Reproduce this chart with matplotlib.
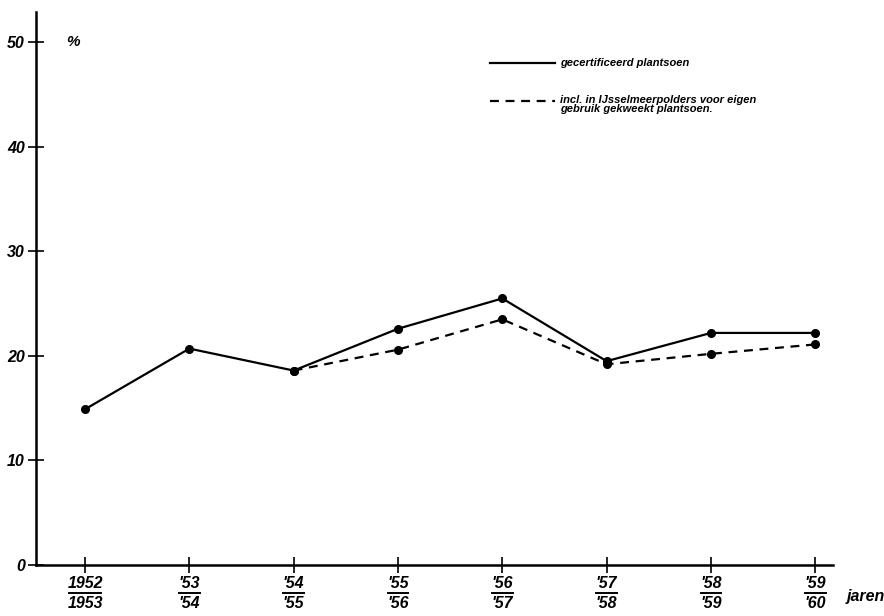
import matplotlib
matplotlib.use('Agg')
import matplotlib.pyplot as plt
from matplotlib.lines import Line2D
import matplotlib.transforms as mtransforms

# ---- data ----
periods_top = ["1952", "'53", "'54", "'55", "'56", "'57", "'58", "'59"]
periods_bottom = ["1953", "'54", "'55", "'56", "'57", "'58", "'59", "'60"]
certified = [14.9, 20.7, 18.6, 22.6, 25.5, 19.5, 22.2, 22.2]
incl_start = 2  # dashed series starts at '54/'55
incl_polders = [18.6, 20.6, 23.5, 19.2, 20.2, 21.1]
yticks = [0, 10, 20, 30, 40, 50]
legend_solid = "gecertificeerd plantsoen"
legend_dashed = "incl. in IJsselmeerpolders voor eigen\ngebruik gekweekt plantsoen."

W, H = 884, 616
fig = plt.figure(figsize=(W / 100, H / 100), dpi=100)
left, bottom, right, top = 36, 565, 833, 12
ax = fig.add_axes([left / W, (H - bottom) / H, (right - left) / W, (bottom - top) / H])

font = dict(family=['Liberation Sans', 'DejaVu Sans'], style='italic', weight='bold')

x = list(range(len(periods_top)))
ax.plot(x, certified, color='black', lw=1.6, marker='o', ms=5.5, zorder=3)
xd = x[incl_start:incl_start + len(incl_polders)]
ax.plot(xd, incl_polders, color='black', lw=1.6, ls=(0, (4, 3)), marker='o', ms=5.5, zorder=3)

ax.set_xlim(-0.47, 7.17)
ax.set_ylim(0, 52.9)
for s in ['top', 'right']:
    ax.spines[s].set_visible(False)
for s in ['left', 'bottom']:
    ax.spines[s].set_linewidth(1.8)

ax.set_yticks(yticks)
ax.set_yticklabels([str(v) for v in yticks], fontsize=11.5, **font)
ax.tick_params(axis='y', direction='inout', length=12, width=1.2, pad=2)
ax.set_xticks(x)
ax.set_xticklabels([''] * len(x))
ax.tick_params(axis='x', direction='inout', length=12, width=1.2)

# fraction-style x labels
trans = mtransforms.blended_transform_factory(ax.transData, fig.transFigure)
for i, (t, b) in enumerate(zip(periods_top, periods_bottom)):
    ax.text(i, 1 - 583 / H, t, transform=trans, ha='center', va='center', fontsize=11.5, **font)
    ax.text(i, 1 - 604 / H, b, transform=trans, ha='center', va='center', fontsize=11.5, **font)
    half = 0.15 if len(t) == 4 else 0.1
    ax.add_line(Line2D([i - half, i + half], [1 - 593 / H] * 2, transform=trans,
                       color='black', lw=1.4, clip_on=False))

fig.text(847 / W, 1 - 596 / H, "jaren", ha='left', va='center', fontsize=11.5, **font)
fig.text(66 / W, 1 - 42 / H, "%", ha='left', va='center', fontsize=11, **font)

# legend drawn manually
fig.add_artist(Line2D([490 / W, 555 / W], [1 - 63 / H] * 2, color='black', lw=1.6))
fig.text(560 / W, 1 - 63 / H, legend_solid, ha='left', va='center', fontsize=8, **font)
fig.add_artist(Line2D([490 / W, 555 / W], [1 - 101 / H] * 2, color='black', lw=1.6, ls=(0, (4, 3))))
fig.text(560 / W, 1 - 95 / H, legend_dashed, ha='left', va='top', fontsize=8,
         linespacing=0.9, **font)

fig.savefig('out.png', dpi=100)
